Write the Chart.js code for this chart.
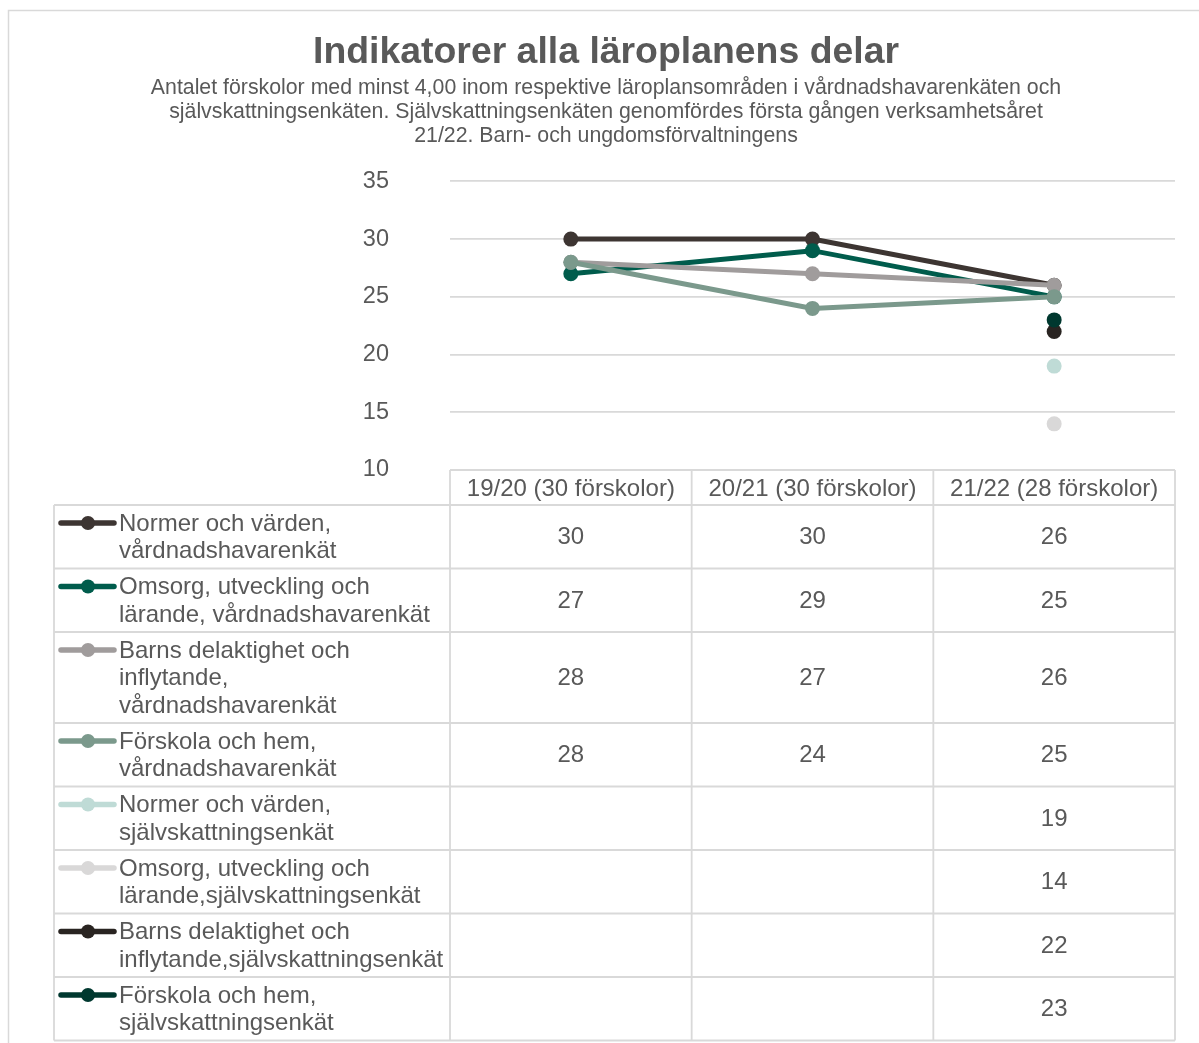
<!DOCTYPE html>
<html>
<head>
<meta charset="utf-8">
<script src="https://cdn.jsdelivr.net/npm/chart.js@4"></script>
<style>
  html, body { margin: 0; padding: 0; background: #fff; }
  #wrap { width: 1199px; height: 1043px; }
</style>
</head>
<body>
<div id="wrap"><canvas id="chart" width="1199" height="1043"></canvas></div>
<script>
// Categories (school years) and y-axis range
const categories = ['19/20 (30 förskolor)', '20/21 (30 förskolor)', '21/22 (28 förskolor)'];
const yTicks = [10, 15, 20, 25, 30, 35];

// Series values, one array per indicator (null = not measured that year)
const normerVard = [30, 30, 26];
const omsorgVard = [27, 29, 25];
const barnsVard = [28, 27, 26];
const forskolaVard = [28, 24, 25];
const normerSjalv = [null, null, 19];
const omsorgSjalv = [null, null, 14];
const barnsSjalv = [null, null, 22];
const forskolaSjalv = [null, null, 23];

// Series names as they wrap in the data table
const seriesLabels = [
    ['Normer och värden,', 'vårdnadshavarenkät'],
    ['Omsorg, utveckling och', 'lärande, vårdnadshavarenkät'],
    ['Barns delaktighet och', 'inflytande,', 'vårdnadshavarenkät'],
    ['Förskola och hem,', 'vårdnadshavarenkät'],
    ['Normer och värden,', 'självskattningsenkät'],
    ['Omsorg, utveckling och', 'lärande,självskattningsenkät'],
    ['Barns delaktighet och', 'inflytande,självskattningsenkät'],
    ['Förskola och hem,', 'självskattningsenkät']
];
const seriesValues = [normerVard, omsorgVard, barnsVard, forskolaVard,
    normerSjalv, omsorgSjalv, barnsSjalv, forskolaSjalv];
const seriesColors = ['#3d3532', '#005c4c', '#a09c9c', '#7b998c',
    '#bfdbd6', '#d9d8d8', '#292421', '#00382f'];

const TEXT = '#595959';
const GRID = '#d9d9d9';
const FONT = '"Liberation Sans", Arial, sans-serif';

/**
 * Draws the Excel-style data table under the plot area,
 * aligned to the category scale columns
 */
const dataTablePlugin = {
    id: 'dataTable',
    afterDraw(chart) {
        const { ctx, chartArea, scales } = chart;
        const x = scales.x;
        const step = x.getPixelForValue(1) - x.getPixelForValue(0);
        const edges = categories.map((_, i) => x.getPixelForValue(i) - step / 2);
        edges.push(x.getPixelForValue(categories.length - 1) + step / 2);

        const headerTop = chartArea.bottom;
        const headerH = 35;
        const lineH = 27.5;
        const rowPad = 8.5;
        const legendLeft = 54;

        // row boundaries
        const rows = [];
        let y = headerTop + headerH;
        seriesLabels.forEach(lines => {
            const h = rowPad + lines.length * lineH;
            rows.push({ top: y, h: h });
            y += h;
        });
        const bottom = y;

        ctx.save();

        // outer chart frame
        ctx.strokeStyle = GRID;
        ctx.lineWidth = 1.5;
        ctx.beginPath();
        ctx.moveTo(8.5, 1043);
        ctx.lineTo(8.5, 10.5);
        ctx.lineTo(1199, 10.5);
        ctx.stroke();

        // grid lines
        ctx.lineWidth = 1.8;
        ctx.beginPath();
        ctx.moveTo(edges[0], headerTop);
        ctx.lineTo(edges[edges.length - 1], headerTop);
        rows.forEach(r => {
            ctx.moveTo(legendLeft, r.top);
            ctx.lineTo(edges[edges.length - 1], r.top);
        });
        ctx.moveTo(legendLeft, bottom);
        ctx.lineTo(edges[edges.length - 1], bottom);
        edges.forEach(e => {
            ctx.moveTo(e, headerTop);
            ctx.lineTo(e, bottom);
        });
        ctx.moveTo(legendLeft, headerTop + headerH);
        ctx.lineTo(legendLeft, bottom);
        ctx.stroke();

        // header
        ctx.fillStyle = TEXT;
        ctx.font = '24px ' + FONT;
        ctx.textAlign = 'center';
        ctx.textBaseline = 'middle';
        categories.forEach((c, i) => {
            ctx.fillText(c, x.getPixelForValue(i), headerTop + headerH / 2 + 2);
        });

        // rows
        rows.forEach((r, s) => {
            const color = seriesColors[s];
            const firstY = r.top + rowPad / 2 + lineH / 2;

            // legend key
            ctx.strokeStyle = color;
            ctx.lineWidth = 5.5;
            ctx.lineCap = 'round';
            ctx.beginPath();
            ctx.moveTo(61, firstY);
            ctx.lineTo(114, firstY);
            ctx.stroke();
            ctx.fillStyle = color;
            ctx.beginPath();
            ctx.arc(88, firstY, 7, 0, Math.PI * 2);
            ctx.fill();

            // label text
            ctx.fillStyle = TEXT;
            ctx.textAlign = 'left';
            seriesLabels[s].forEach((line, k) => {
                ctx.fillText(line, 119, firstY + 1 + k * lineH);
            });

            // values
            ctx.textAlign = 'center';
            seriesValues[s].forEach((v, i) => {
                if (v !== null) {
                    ctx.fillText(String(v), x.getPixelForValue(i), r.top + r.h / 2 + 1);
                }
            });
        });

        ctx.restore();
    }
};

const datasets = seriesValues.map((values, i) => ({
    label: seriesLabels[i].join(' '),
    data: values,
    borderColor: seriesColors[i],
    backgroundColor: seriesColors[i],
    pointBackgroundColor: seriesColors[i],
    pointBorderWidth: 0,
    pointRadius: 7.5,
    borderWidth: 5,
    tension: 0,
    spanGaps: false,
    order: seriesValues.length - i
}));

new Chart(document.getElementById('chart'), {
    type: 'line',
    data: { labels: categories, datasets: datasets },
    plugins: [dataTablePlugin],
    options: {
        responsive: false,
        animation: false,
        layout: {
            padding: { left: 37, right: 24, top: 0, bottom: 573 }
        },
        plugins: {
            legend: { display: false },
            tooltip: { enabled: false },
            title: {
                display: true,
                text: 'Indikatorer alla läroplanens delar',
                color: TEXT,
                font: { family: FONT, size: 37.4, weight: 'bold', lineHeight: 1.2 },
                padding: { top: 30, bottom: 0 }
            },
            subtitle: {
                display: true,
                text: [
                    'Antalet förskolor med minst 4,00 inom respektive läroplansområden i vårdnadshavarenkäten och',
                    'självskattningsenkäten. Självskattningsenkäten genomfördes första gången verksamhetsåret',
                    '21/22. Barn- och ungdomsförvaltningens'
                ],
                color: TEXT,
                font: { family: FONT, size: 21.3, lineHeight: 1.127 },
                padding: { top: 1.5, bottom: 33 }
            }
        },
        scales: {
            x: {
                display: false,
                offset: true
            },
            y: {
                min: yTicks[0],
                max: yTicks[yTicks.length - 1],
                afterFit: (scale) => { scale.width = 413; },
                afterBuildTicks: (scale) => { scale.ticks = yTicks.map(v => ({ value: v })); },
                border: { display: false },
                grid: { color: GRID, lineWidth: 1.8, drawTicks: false },
                ticks: {
                    padding: 61,
                    color: TEXT,
                    font: { family: FONT, size: 23.5 }
                }
            }
        }
    }
});
</script>
</body>
</html>
